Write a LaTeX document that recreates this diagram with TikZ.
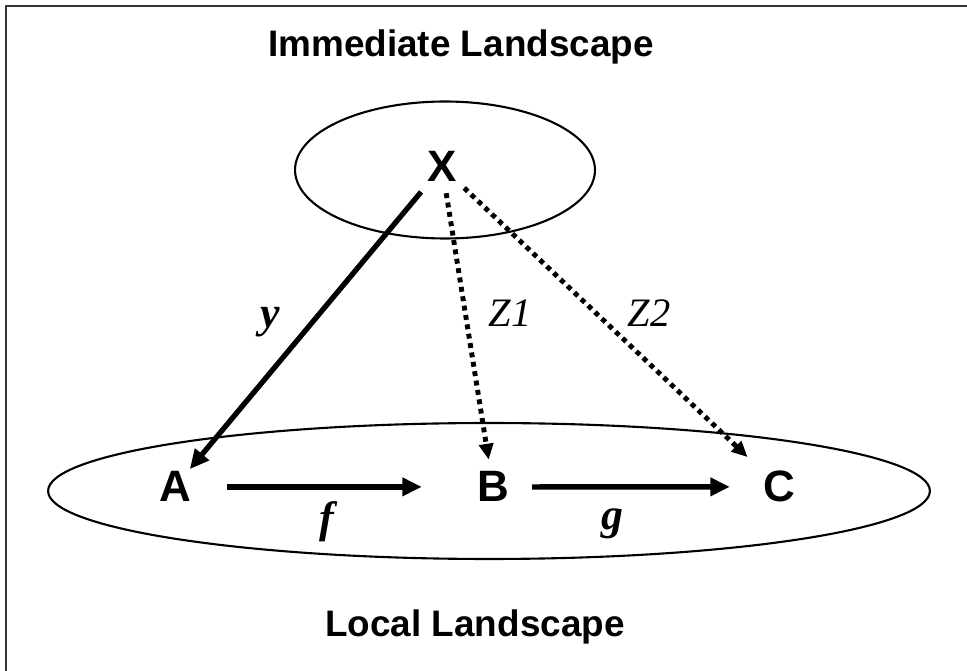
\documentclass[tikz,border=0pt]{standalone}
\usepackage{fontspec}
\setmainfont{Liberation Serif}
\setsansfont{Liberation Sans}
\usetikzlibrary{arrows.meta}
\tikzset{
  every picture/.style={line join=round},
  heading/.style={font=\sffamily\bfseries\fontsize{21}{24}\selectfont, anchor=base},
  letter/.style={font=\sffamily\bfseries\fontsize{25}{30}\selectfont, inner sep=0pt, anchor=base},
  edgelabel/.style={font=\itshape\fontsize{23}{26}\selectfont},
  boldlabel/.style={font=\bfseries\itshape\fontsize{25}{28}\selectfont},
  solidarrow/.style={-{Triangle[length=11pt,width=10pt]}, line width=3pt},
  dotarrow/.style={-{Triangle[length=9pt,width=8pt]}, line width=2.8pt, dash pattern=on 2.8pt off 2.6pt},
  ring/.style={line width=1.2pt},
}

\begin{document}
\begin{tikzpicture}[x=0.02cm, y=-0.02cm]
\useasboundingbox (0,0) rectangle (967,671);
\draw[line width=1.2pt, black!80] (967,6) -- (6,6) -- (6,671);
% landscapes
\draw[ring] (445,170) ellipse [x radius=3cm, y radius=1.37cm];
\draw[ring] (489,491) ellipse [x radius=8.82cm, y radius=1.36cm];
\node[heading] (imm) at (461,57) {Immediate Landscape};
\node[heading] (loc) at (475,637) {Local Landscape};
% variables
\node[letter] (X) at (442,182) {X};
\node[letter] (A) at (175,502) {A};
\node[letter] (B) at (493,502) {B};
\node[letter] (C) at (779,502) {C};
% effects
\draw[solidarrow, shorten <=0.25cm, shorten >=0.06cm] (X) -- (A);
\draw[dotarrow, shorten <=0.22cm, shorten >=0.24cm] (X) -- (B);
\draw[dotarrow, shorten <=0.2cm, shorten >=0.42cm] (X) -- (C);
\draw[solidarrow, shorten <=0.72cm, shorten >=1.1cm] (A) -- (B);
\draw[solidarrow, shorten <=0.46cm, shorten >=0.66cm] (B) -- (C);
% labels
\node[boldlabel] (ly) at (270,322) {y};
\node[edgelabel] (lz1) at (510,313) {Z1};
\node[edgelabel] (lz2) at (649,313) {Z2};
\node[boldlabel] (lf) at (327,522) {f};
\node[boldlabel] (lg) at (612,524) {g};
\end{tikzpicture}
\end{document}
